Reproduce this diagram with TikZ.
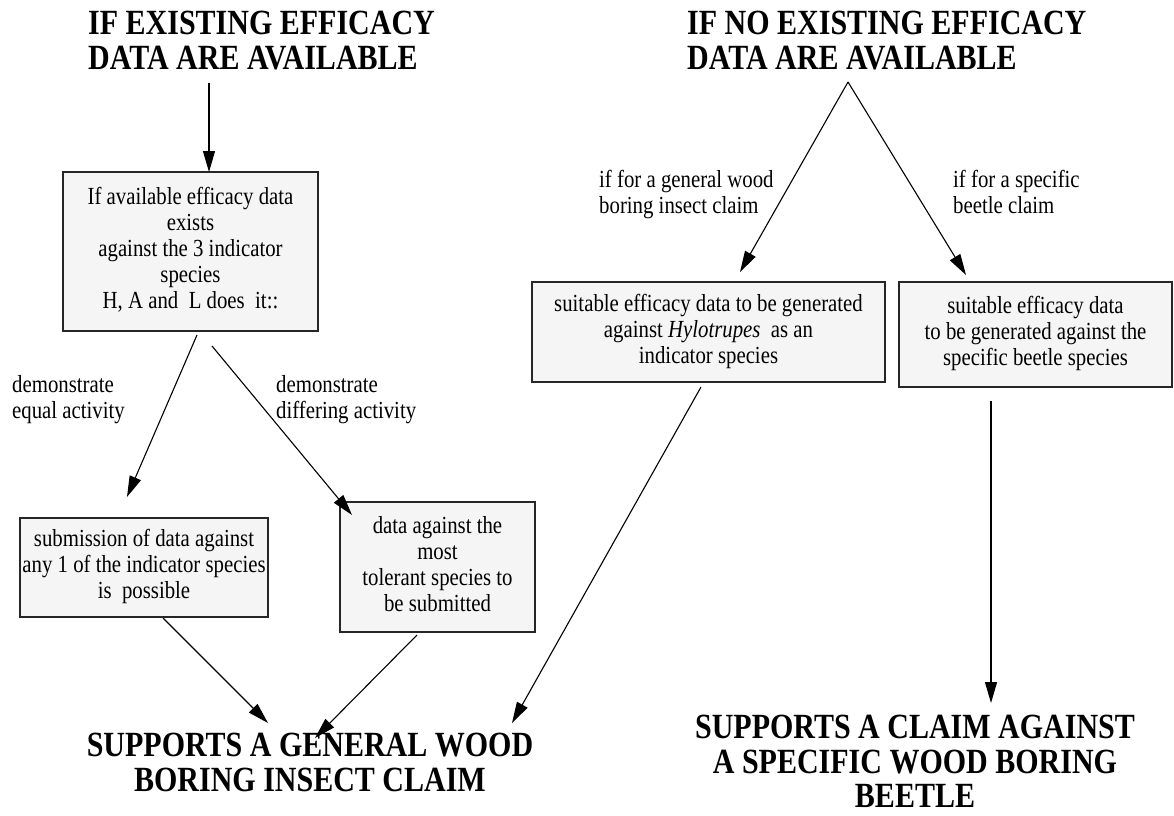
\documentclass[tikz,border=0pt]{standalone}
\usepackage{fontspec}
\setmainfont{Liberation Serif}
\usepackage{graphicx}
\usetikzlibrary{arrows.meta}
\definecolor{boxgray}{HTML}{F5F5F5}
\newcommand{\vtext}[2][c]{\scalebox{1}[1.18]{\begin{tabular}{@{}#1@{}}#2\end{tabular}}}
\newcommand{\bodyfont}{\fontsize{20.8}{22}\selectfont}
\newcommand{\headfont}{\fontsize{30}{29.6}\selectfont\bfseries}
\begin{document}
\begin{tikzpicture}[x=1pt,y=-1pt,
  box/.style={draw=black!85, line width=1.3pt, fill=boxgray, inner sep=0pt, font=\bodyfont},
  lbl/.style={inner sep=0pt, font=\bodyfont, anchor=west},
  head/.style={inner sep=0pt, font=\headfont},
  conn/.style={line width=1.1pt, -{Triangle[length=21pt,width=12pt]}}]
\useasboundingbox (0,0) rectangle (1174,815);
\fill[white] (0,0) rectangle (1174,815);

% headings
\node[head, anchor=west] (h1) at (88,45) {\vtext[l]{IF EXISTING EFFICACY\\DATA ARE AVAILABLE}};
\node[head, anchor=west] (h2) at (687,45) {\vtext[l]{IF NO EXISTING EFFICACY\\DATA ARE AVAILABLE}};
\node[head] (h3) at (310,767) {\vtext{SUPPORTS A GENERAL WOOD\\BORING INSECT CLAIM}};
\node[head] (h4) at (915,766) {\vtext{SUPPORTS A CLAIM AGAINST\\A SPECIFIC WOOD BORING\\BEETLE}};

% boxes
\node[box, minimum width=255pt, minimum height=159pt] (b1) at (190.5,251.5)
  {\vtext{If available efficacy data\\exists\\against the 3 indicator\\species\\H, A and\ \ L does\ \ it::}};
\node[box, minimum width=248pt, minimum height=99pt] (b2) at (144,567.5)
  {\vtext{submission of data against\\any 1 of the indicator species\\is\ \ possible}};
\node[box, minimum width=195pt, minimum height=130pt] (b3) at (437.5,567)
  {\vtext{data against the\\most\\tolerant species to\\be submitted}};
\node[box, minimum width=353pt, minimum height=100pt] (b4) at (708.5,332)
  {\vtext{suitable efficacy data to be generated\\against \textit{Hylotrupes}\ \ as an\\indicator species}};
\node[box, minimum width=273pt, minimum height=105pt] (b5) at (1035.5,334.5)
  {\vtext{suitable efficacy data\\to be generated against the\\specific beetle species}};

% labels
\node[lbl] (l1) at (12,400) {\vtext[l]{demonstrate\\equal activity}};
\node[lbl] (l2) at (276,400) {\vtext[l]{demonstrate\\differing activity}};
\node[lbl] (l3) at (599,195) {\vtext[l]{if for a general wood\\boring insect claim}};
\node[lbl] (l4) at (953,195) {\vtext[l]{if for a specific\\beetle claim}};

% connector end points
\coordinate (a1s) at (209,83);   \coordinate (a1e) at (209,172);
\coordinate (a2s) at (197,335);  \coordinate (a2e) at (127,497);
\coordinate (a3s) at (212,346);  \coordinate (a3e) at (352,515);
\coordinate (a4s) at (163,618);  \coordinate (a4e) at (268,723);
\coordinate (a5s) at (417,635);  \coordinate (a5e) at (315,738);
\coordinate (apex) at (848,82);
\coordinate (a6e) at (740,272);  \coordinate (a7e) at (966,275);
\coordinate (a8s) at (701,387);  \coordinate (a8e) at (512,723);
\coordinate (a9s) at (991,401);  \coordinate (a9e) at (991,703);

\draw[conn] (a1s) -- (a1e);
\draw[conn] (a2s) -- (a2e);
\draw[conn] (a3s) -- (a3e);
\draw[conn] (a4s) -- (a4e);
\draw[conn] (a5s) -- (a5e);
\draw[conn] (apex) -- (a6e);
\draw[conn] (apex) -- (a7e);
\draw[conn] (a8s) -- (a8e);
\draw[conn] (a9s) -- (a9e);
\end{tikzpicture}
\end{document}
